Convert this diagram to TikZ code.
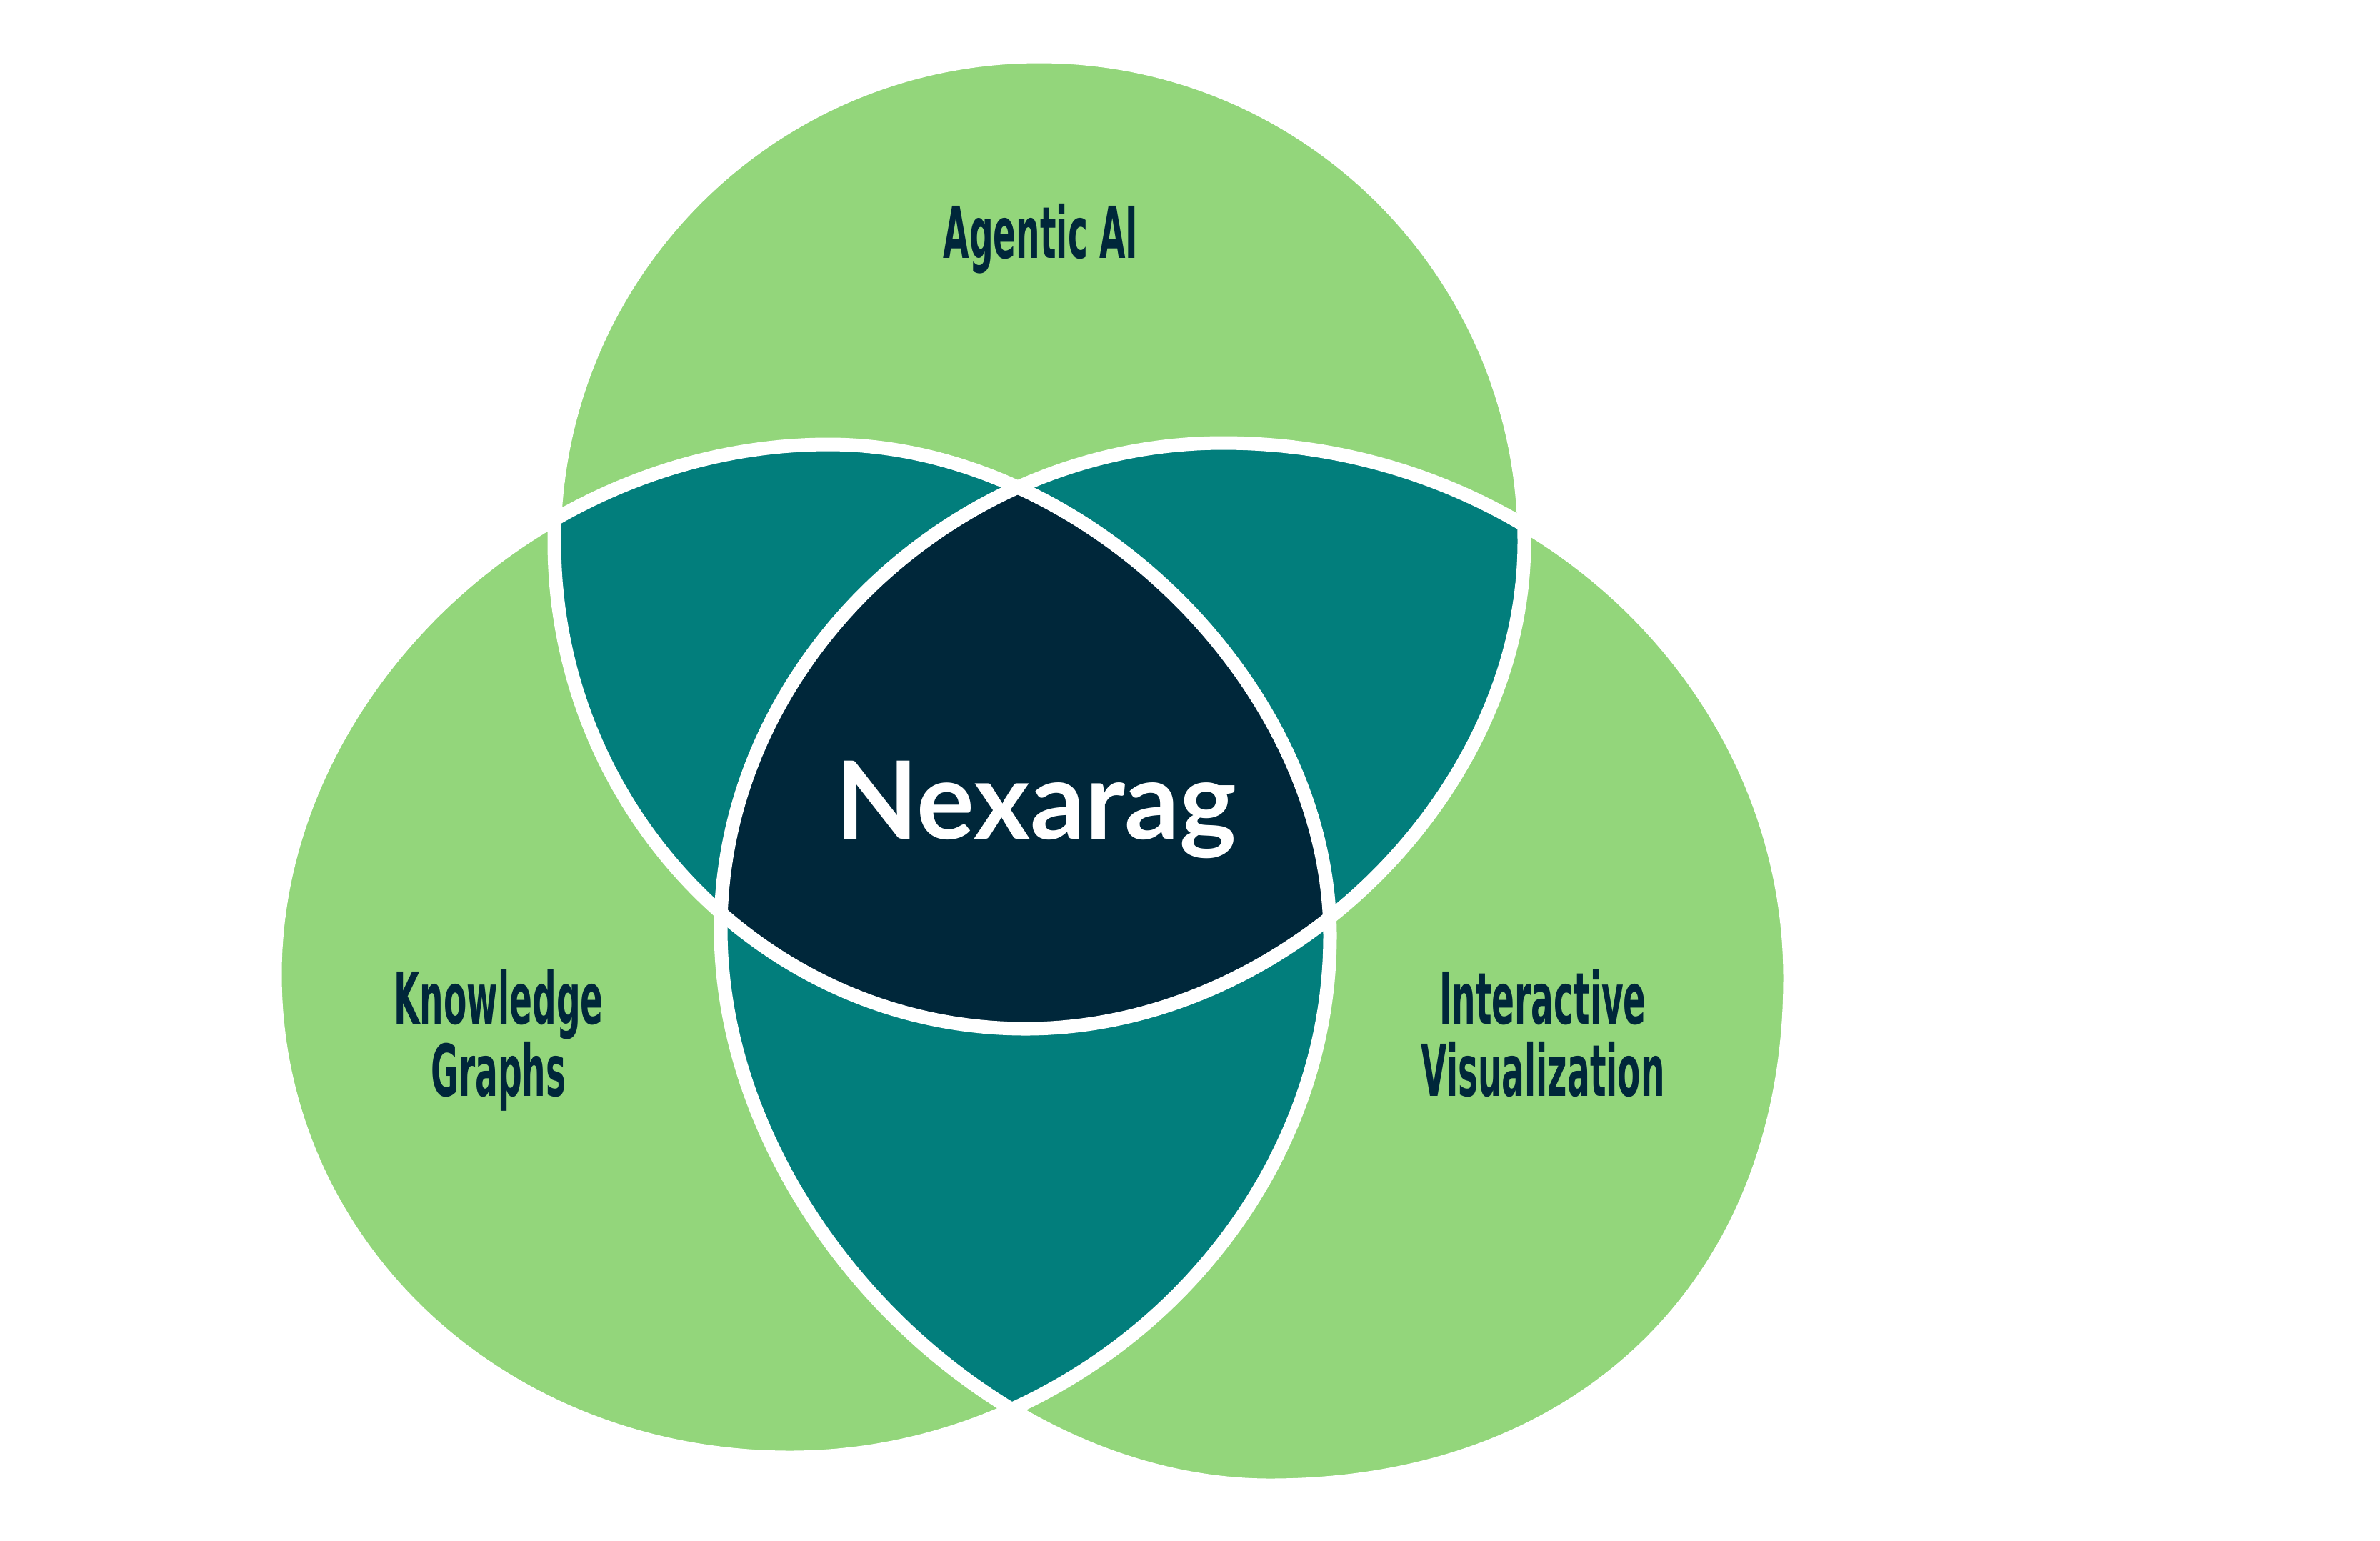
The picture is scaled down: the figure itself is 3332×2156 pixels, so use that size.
\documentclass[tikz,border=0pt]{standalone}
\usepackage{fontspec}
\setmainfont{Lato}
\newfontfamily\gothic{DejaVu Sans}
\definecolor{leaf}{HTML}{93D67B}
\definecolor{lagoon}{HTML}{027E7C}
\definecolor{midnight}{HTML}{00273A}
\newcommand\narrow[1]{\scalebox{0.47}[1]{#1}}
\tikzset{
  set/.style = {fill=leaf},
  pair/.style = {fill=lagoon},
  core/.style = {fill=midnight},
  rim/.style = {draw=white, line width=1.9mm},
  topic/.style = {text=midnight, inner sep=0, align=center,
                  font=\gothic\bfseries\fontsize{28.5}{28.7}\selectfont},
  hub/.style = {text=white, inner sep=0,
                font=\bfseries\fontsize{43}{43}\selectfont},
}
\def\agentpath{(1455,79) .. controls (1830,79) and (2134,383) .. (2134,758)
  .. controls (2134,1113) and (1799,1440) .. (1436,1440)
  .. controls (1072,1440) and (776,1134) .. (776,758)
  .. controls (776,383) and (1080,79) .. cycle}
\def\graphpath{(1160,622) .. controls (1518,622) and (1862,959) .. (1862,1310)
  .. controls (1862,1704) and (1514,2040) .. (1106,2040)
  .. controls (702,2040) and (385,1743) .. (385,1364)
  .. controls (385,971) and (749,622) .. cycle}
\def\vizpath{(1712,620) .. controls (2149,620) and (2506,957) .. (2506,1369)
  .. controls (2506,1795) and (2215,2079) .. (1778,2079)
  .. controls (1386,2079) and (1009,1697) .. (1009,1300)
  .. controls (1009,933) and (1332,620) .. cycle}

\begin{document}
\begin{tikzpicture}[x=0.01cm, y=-0.01cm]
\fill[white] (0,0) rectangle (3332,2156);
\fill[set] \agentpath;
\fill[set] \graphpath;
\fill[set] \vizpath;
\begin{scope}
  \clip \agentpath;
  \fill[pair] \graphpath;
  \fill[pair] \vizpath;
\end{scope}
\begin{scope}
  \clip \graphpath;
  \fill[pair] \vizpath;
\end{scope}
\begin{scope}
  \clip \agentpath;
  \clip \graphpath;
  \fill[core] \vizpath;
\end{scope}
\draw[rim] \agentpath;
\draw[rim] \graphpath;
\draw[rim] \vizpath;
\node[topic, anchor=base] (agentic) at (1457,361) {\narrow{Agentic AI}};
\node[topic, anchor=base] (graphs) at (698,1534) {\narrow{Knowledge}\\\narrow{Graphs}};
\node[topic, anchor=base] (visual) at (2160,1534) {\narrow{Interactive}\\\narrow{Visualization}};
\node[hub, anchor=base] (nexarag) at (1450,1174) {Nexarag};
\end{tikzpicture}
\end{document}
